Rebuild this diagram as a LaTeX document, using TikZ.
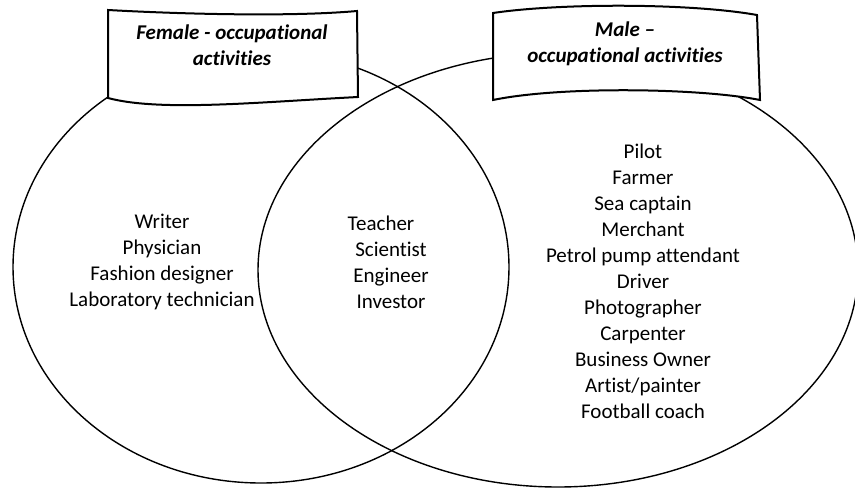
\documentclass[tikz,border=0pt]{standalone}
\usepackage{fontspec}
\setmainfont{Carlito}[Ligatures=NoCommon]
\usetikzlibrary{shapes.geometric}

\begin{document}
\begin{tikzpicture}[x=1pt,y=-1pt]
\useasboundingbox (0,0) rectangle (855,488);
\begin{scope}[every node/.style={ellipse,draw,line width=1.4pt,inner sep=0pt}]
\node[minimum width=496pt,minimum height=432pt] (F) at (261,267) {};
\node[minimum width=600pt,minimum height=434pt] (M) at (558,270) {};
\end{scope}
\draw [line width=2pt, fill=white] (108,10) .. controls (180,14) and (290,17) .. (357,11) -- (358,97) .. controls (260,102) and (160,112) .. (108,98) -- cycle;
\draw [line width=2pt, fill=white] (493,13) .. controls (560,3) and (690,3) .. (757,15) -- (760,100) .. controls (700,88) and (560,86) .. (493,100) -- cycle;
\begin{scope}[every node/.style={align=center,inner sep=0pt,font=\fontsize{21}{26}\selectfont}]
\node [font=\fontsize{21}{26}\selectfont\bfseries\itshape] (FT) at (232,45) {Female - occupational\\activities};
\node [font=\fontsize{21}{26}\selectfont\bfseries\itshape] (MT) at (625,44) {Male --\\occupational activities};
\node (FL) at (162,262) {Writer\\Physician\\Fashion designer\\Laboratory technician};
\node (BL) at (391,262) {Teacher\hspace*{20pt}\\Scientist\\Engineer\\Investor};
\node (ML) at (643,281) {Pilot\\Farmer\\Sea captain\\Merchant\\Petrol pump attendant\\Driver\\Photographer\\Carpenter\\Business Owner\\Artist/painter\\Football coach};
\end{scope}
\end{tikzpicture}
\end{document}
